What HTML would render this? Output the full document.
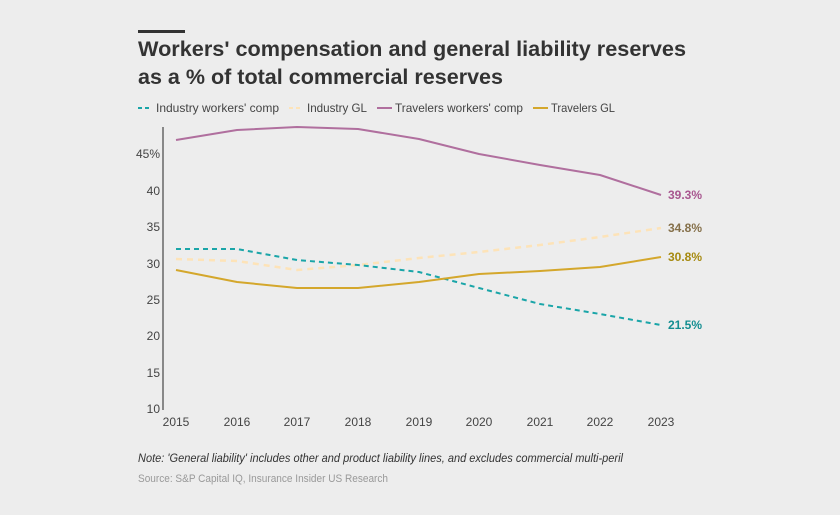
<!DOCTYPE html>
<html><head><meta charset="utf-8"><style>
html,body{margin:0;padding:0;background:#ededed;}
body{width:840px;height:515px;overflow:hidden;position:relative;font-family:"Liberation Sans",sans-serif;}
</style></head><body>
<svg width="840" height="515" xmlns="http://www.w3.org/2000/svg" style="position:absolute;left:0;top:0">
<rect x="138" y="30" width="47" height="3" fill="#333"/>
<text x="138" y="56" font-size="21.5" font-weight="bold" fill="#333" textLength="548" lengthAdjust="spacingAndGlyphs">Workers' compensation and general liability reserves</text>
<text x="138" y="84" font-size="21.5" font-weight="bold" fill="#333" textLength="365" lengthAdjust="spacingAndGlyphs">as a % of total commercial reserves</text>
<g font-size="12" fill="#444">
<line x1="138" y1="108" x2="152" y2="108" stroke="#1aa5a8" stroke-width="2" stroke-dasharray="4,3"/>
<text x="156" y="112" textLength="123" lengthAdjust="spacingAndGlyphs">Industry workers' comp</text>
<line x1="289" y1="108" x2="303" y2="108" stroke="#fde3b8" stroke-width="2" stroke-dasharray="4,3"/>
<text x="307" y="112" textLength="60" lengthAdjust="spacingAndGlyphs">Industry GL</text>
<line x1="377" y1="108" x2="392" y2="108" stroke="#b06f9e" stroke-width="2"/>
<text x="395" y="112" textLength="128" lengthAdjust="spacingAndGlyphs">Travelers workers' comp</text>
<line x1="533" y1="108" x2="548" y2="108" stroke="#d4a72c" stroke-width="2"/>
<text x="551" y="112" textLength="64" lengthAdjust="spacingAndGlyphs">Travelers GL</text>
</g>
<line x1="163" y1="127" x2="163" y2="410" stroke="#666" stroke-width="1.5"/>
<g font-size="12" fill="#444" text-anchor="end">
<text x="160" y="158">45%</text>
<text x="160" y="195">40</text>
<text x="160" y="231">35</text>
<text x="160" y="268">30</text>
<text x="160" y="304">25</text>
<text x="160" y="340">20</text>
<text x="160" y="377">15</text>
<text x="160" y="413">10</text>
</g>
<g font-size="12" fill="#444" text-anchor="middle">
<text x="176" y="426">2015</text><text x="237" y="426">2016</text><text x="297" y="426">2017</text>
<text x="358" y="426">2018</text><text x="419" y="426">2019</text><text x="479" y="426">2020</text>
<text x="540" y="426">2021</text><text x="600" y="426">2022</text><text x="661" y="426">2023</text>
</g>
<g fill="none" stroke-width="2" stroke-linejoin="round">
<polyline stroke="#fde3b8" stroke-width="2.5" stroke-dasharray="6,5" points="176,259 237,261 297,270 358,265 419,258 479,252 540,245 600,237 661,228"/>
<polyline stroke="#1aa5a8" stroke-dasharray="5,4" points="176,249 237,249 297,260 358,265 419,272 479,288 540,304 600,314 661,325"/>
<polyline stroke="#d4a72c" points="176,270 237,282 297,288 358,288 419,282 479,274 540,271 600,267 661,257"/>
<polyline stroke="#b06f9e" points="176,140 237,130 297,127 358,129 419,139 479,154 540,165 600,175 661,195"/>
</g>
<g font-size="12" font-weight="bold">
<text x="668" y="199" fill="#a8568f">39.3%</text>
<text x="668" y="232" fill="#85704a">34.8%</text>
<text x="668" y="261" fill="#a68a10">30.8%</text>
<text x="668" y="329" fill="#138e91">21.5%</text>
</g>
<text x="138" y="462" font-size="12" font-style="italic" fill="#333" textLength="485" lengthAdjust="spacingAndGlyphs">Note: 'General liability' includes other and product liability lines, and excludes commercial multi-peril</text>
<text x="138" y="482" font-size="11" fill="#999" textLength="250" lengthAdjust="spacingAndGlyphs">Source: S&amp;P Capital IQ, Insurance Insider US Research</text>
</svg>
</body></html>
